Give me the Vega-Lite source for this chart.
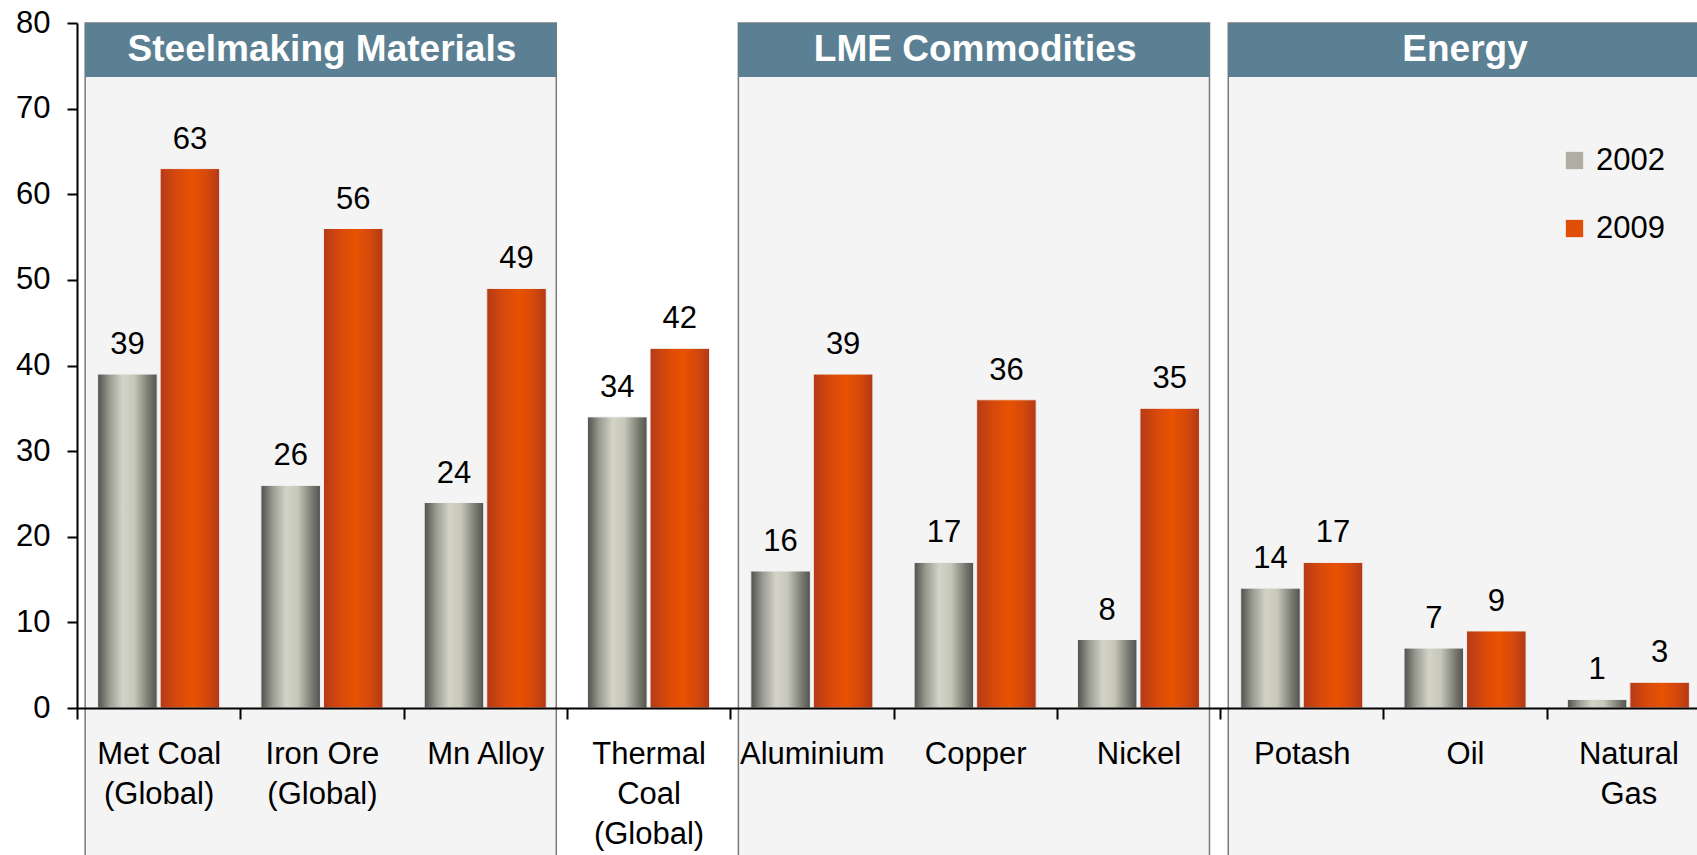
{
  "$schema": "https://vega.github.io/schema/vega-lite/v6.json",
  "width": 1620,
  "height": 685,
  "autosize": {"type": "none"},
  "padding": {"left": 77, "top": 23, "right": 0, "bottom": 147},
  "background": "white",
  "config": {"view": {"stroke": null}, "font": "Liberation Sans"},
  "datasets": {
    "bars": [
      {"category": "Met Coal\n(Global)", "year": "2002", "value": 39},
      {"category": "Met Coal\n(Global)", "year": "2009", "value": 63},
      {"category": "Iron Ore\n(Global)", "year": "2002", "value": 26},
      {"category": "Iron Ore\n(Global)", "year": "2009", "value": 56},
      {"category": "Mn Alloy", "year": "2002", "value": 24},
      {"category": "Mn Alloy", "year": "2009", "value": 49},
      {"category": "Thermal\nCoal\n(Global)", "year": "2002", "value": 34},
      {"category": "Thermal\nCoal\n(Global)", "year": "2009", "value": 42},
      {"category": "Aluminium", "year": "2002", "value": 16},
      {"category": "Aluminium", "year": "2009", "value": 39},
      {"category": "Copper", "year": "2002", "value": 17},
      {"category": "Copper", "year": "2009", "value": 36},
      {"category": "Nickel", "year": "2002", "value": 8},
      {"category": "Nickel", "year": "2009", "value": 35},
      {"category": "Potash", "year": "2002", "value": 14},
      {"category": "Potash", "year": "2009", "value": 17},
      {"category": "Oil", "year": "2002", "value": 7},
      {"category": "Oil", "year": "2009", "value": 9},
      {"category": "Natural\nGas", "year": "2002", "value": 1},
      {"category": "Natural\nGas", "year": "2009", "value": 3}
    ],
    "panels": [
      {"panel": "Steelmaking Materials", "start": "Met Coal\n(Global)", "end": "Mn Alloy", "mid": "Iron Ore\n(Global)"},
      {"panel": "LME Commodities", "start": "Aluminium", "end": "Nickel", "mid": "Copper"},
      {"panel": "Energy", "start": "Potash", "end": "Natural\nGas", "mid": "Oil"}
    ]
  },
  "layer": [
    {
      "data": {"name": "panels"},
      "mark": {"type": "rect", "fill": "#f4f4f4", "stroke": "#7a7a7a", "strokeWidth": 1.5},
      "encoding": {
        "x": {
          "field": "start", "type": "nominal", "bandPosition": 0.05, "title": null,
          "sort": null,
          "scale": {
            "domain": ["Met Coal\n(Global)", "Iron Ore\n(Global)", "Mn Alloy", "Thermal\nCoal\n(Global)", "Aluminium", "Copper", "Nickel", "Potash", "Oil", "Natural\nGas"],
            "range": [0, 1633],
            "paddingInner": 0,
            "paddingOuter": 0
          },
          "axis": {
            "zindex": 1,
            "labelExpr": "split(datum.label, '\\n')",
            "labelAngle": 0,
            "labelFontSize": 31,
            "labelFont": "Liberation Sans",
            "labelColor": "#000000",
            "labelLineHeight": 40,
            "labelPadding": 20,
            "labelAlign": "center",
            "labelBaseline": "top",
            "tickBand": "extent",
            "tickSize": 11,
            "tickWidth": 2,
            "tickColor": "#000000",
            "domainColor": "#000000",
            "domainWidth": 2,
            "labelOverlap": false,
            "labelLimit": 0
          }
        },
        "x2": {"field": "end", "bandPosition": 0.935},
        "y": {"datum": 80, "type": "quantitative", "title": null},
        "y2": {"datum": -20}
      }
    },
    {
      "data": {"name": "panels"},
      "mark": {"type": "rect", "fill": "#5b7f93"},
      "encoding": {
        "x": {"field": "start", "type": "nominal", "bandPosition": 0.05, "title": null},
        "x2": {"field": "end", "bandPosition": 0.935},
        "y": {"datum": 80, "type": "quantitative", "title": null},
        "y2": {"datum": 73.7}
      }
    },
    {
      "data": {"name": "panels"},
      "mark": {"type": "text", "color": "#ffffff", "fontSize": 37, "fontWeight": "bold", "font": "Liberation Sans", "baseline": "alphabetic", "align": "center"},
      "encoding": {
        "x": {"field": "mid", "type": "nominal", "title": null},
        "y": {"datum": 75.6, "type": "quantitative", "title": null},
        "text": {"field": "panel"}
      }
    },
    {
      "data": {"name": "bars"},
      "mark": {"type": "bar"},
      "encoding": {
        "x": {"field": "category", "type": "nominal", "title": null},
        "xOffset": {"field": "year", "type": "nominal", "scale": {"domain": ["2002", "2009"], "paddingInner": 0.048, "paddingOuter": 0.33}},
        "y": {
          "field": "value", "type": "quantitative", "title": null,
          "scale": {"domain": [0, 80], "nice": false, "zero": true},
          "axis": {
            "zindex": 1,
            "values": [0, 10, 20, 30, 40, 50, 60, 70, 80],
            "grid": false,
            "labelFontSize": 31,
            "labelFont": "Liberation Sans",
            "labelColor": "#000000",
            "labelPadding": 17,
            "tickSize": 10,
            "tickWidth": 2,
            "tickColor": "#000000",
            "domainColor": "#000000",
            "domainWidth": 2
          }
        },
        "color": {
          "field": "year", "type": "nominal",
          "scale": {"domain": ["2002", "2009"], "range": ["#aeaea3", "#e04e08"]},
          "legend": {
            "title": null,
            "orient": "none",
            "legendX": 1482,
            "legendY": 122,
            "padding": 0,
            "symbolType": "square",
            "symbolSize": 300,
            "symbolStrokeWidth": 0,
            "labelFontSize": 31,
            "labelFont": "Liberation Sans",
            "labelColor": "#000000",
            "labelOffset": 6,
            "rowPadding": 36
          }
        }
      }
    },
    {
      "data": {"name": "bars"},
      "mark": {"type": "bar", "stroke": "#f2f2f2", "strokeWidth": 1},
      "encoding": {
        "x": {"field": "category", "type": "nominal", "title": null},
        "xOffset": {"field": "year", "type": "nominal"},
        "y": {"field": "value", "type": "quantitative", "title": null},
        "color": {
          "condition": {
            "test": "datum.year === '2002'",
            "value": {
              "gradient": "linear", "x1": 0, "y1": 0, "x2": 1, "y2": 0,
              "stops": [
                {"offset": 0, "color": "#4e514b"},
                {"offset": 0.2, "color": "#9a9b91"},
                {"offset": 0.42, "color": "#d3d3c7"},
                {"offset": 0.62, "color": "#c6c6b9"},
                {"offset": 0.85, "color": "#7b7d74"},
                {"offset": 1, "color": "#50534d"}
              ]
            }
          },
          "value": {
            "gradient": "linear", "x1": 0, "y1": 0, "x2": 1, "y2": 0,
            "stops": [
              {"offset": 0, "color": "#b53a18"},
              {"offset": 0.3, "color": "#d94a0a"},
              {"offset": 0.55, "color": "#e85200"},
              {"offset": 0.8, "color": "#d2480c"},
              {"offset": 1, "color": "#b33817"}
            ]
          }
        }
      }
    },
    {
      "data": {"name": "bars"},
      "mark": {"type": "text", "fontSize": 31, "font": "Liberation Sans", "color": "#000000", "baseline": "alphabetic", "align": "center", "dy": -20},
      "encoding": {
        "x": {"field": "category", "type": "nominal", "title": null},
        "xOffset": {"field": "year", "type": "nominal"},
        "y": {"field": "value", "type": "quantitative", "title": null},
        "text": {"field": "value", "type": "quantitative"}
      }
    }
  ]
}
